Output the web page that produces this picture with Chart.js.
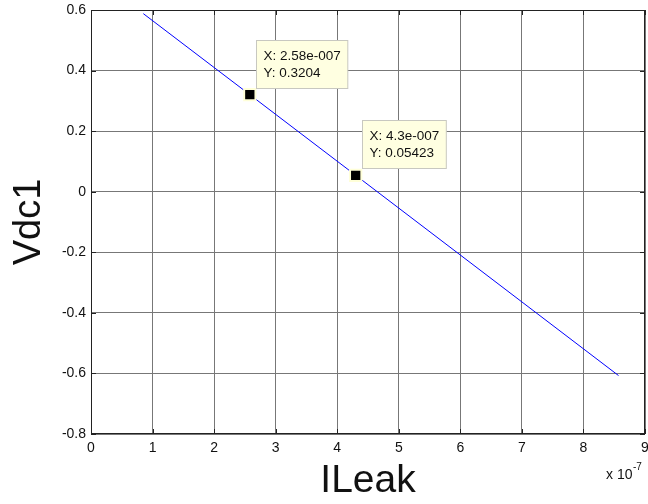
<!DOCTYPE html>
<html>
<head>
<meta charset="utf-8">
<script src="https://cdn.jsdelivr.net/npm/chart.js@4"></script>
<style>
  html, body { margin: 0; padding: 0; background: #fff; }
  canvas { display: block; }
</style>
</head>
<body>
<canvas id="chart" width="648" height="504"></canvas>
<script>
// line data (x in units of 1e-7 A)
const ileak = [0.85, 2.58, 4.3, 8.57];
const vdc1 = [0.588, 0.3204, 0.05423, -0.607];

// data tips
const tipX = [2.58, 4.3];
const tipY = [0.3204, 0.05423];
const tipText = [
    ['X: 2.58e-007', 'Y: 0.3204'],
    ['X: 4.3e-007', 'Y: 0.05423']
];

const xTicks = [0, 1, 2, 3, 4, 5, 6, 7, 8, 9];
const yTicks = [0.6, 0.4, 0.2, 0, -0.2, -0.4, -0.6, -0.8];

const FONT = 'Liberation Sans, Arial, sans-serif';

// Box, inward ticks, data tips and exponent label
const matlabAxes = {
    id: 'matlabAxes',
    afterDatasetsDraw(chart) {
        const { ctx, chartArea: a, scales: { x, y } } = chart;
        ctx.save();
        ctx.strokeStyle = '#222';
        ctx.lineWidth = 1;
        ctx.strokeRect(a.left + 0.5, a.top + 0.5, a.right - a.left - 1, a.bottom - a.top - 1);

        // inward tick marks on all four sides
        ctx.beginPath();
        xTicks.forEach(v => {
            const px = Math.round(x.getPixelForValue(v)) + 0.5;
            ctx.moveTo(px, a.bottom); ctx.lineTo(px, a.bottom - 5);
            ctx.moveTo(px, a.top); ctx.lineTo(px, a.top + 5);
        });
        yTicks.forEach(v => {
            const py = Math.round(y.getPixelForValue(v)) + 0.5;
            ctx.moveTo(a.left, py); ctx.lineTo(a.left + 5, py);
            ctx.moveTo(a.right, py); ctx.lineTo(a.right - 5, py);
        });
        ctx.stroke();

        // data tip boxes
        ctx.font = '13.5px ' + FONT;
        tipX.forEach((v, i) => {
            const mx = x.getPixelForValue(v);
            const my = y.getPixelForValue(tipY[i]);
            const w = Math.max(...tipText[i].map(t => ctx.measureText(t).width)) + 14;
            const h = 48;
            const bx = Math.round(mx + 6) + 0.5;
            const by = Math.round(my - 55) + 0.5;
            ctx.fillStyle = '#ffffe1';
            ctx.fillRect(bx, by, w, h);
            ctx.strokeStyle = '#c8c8c0';
            ctx.strokeRect(bx, by, w, h);
            ctx.fillStyle = '#111';
            ctx.textAlign = 'left';
            ctx.textBaseline = 'middle';
            ctx.fillText(tipText[i][0], bx + 7, by + 16);
            ctx.fillText(tipText[i][1], bx + 7, by + 33);
        });

        // exponent label
        ctx.fillStyle = '#111';
        ctx.textBaseline = 'alphabetic';
        ctx.font = '14px ' + FONT;
        ctx.fillText('x 10', 606, 479);
        ctx.font = '10px ' + FONT;
        ctx.fillText('-7', 633, 470);
        ctx.restore();
    }
};

// only the data-tip points get a marker
const isTip = c => tipX.includes(ileak[c.dataIndex]);

new Chart(document.getElementById('chart'), {
    type: 'scatter',
    data: {
        datasets: [{
            data: ileak.map((v, i) => ({ x: v, y: vdc1[i] })),
            showLine: true,
            borderColor: '#0000ff',
            borderWidth: 1,
            pointStyle: 'rect',
            pointRadius: c => isTip(c) ? 8 : 0,
            pointHoverRadius: 0,
            pointBackgroundColor: '#000',
            pointBorderColor: '#ffffd8',
            pointBorderWidth: 2
        }]
    },
    options: {
        responsive: false,
        animation: false,
        events: [],
        layout: { padding: { top: 10, right: 3, left: 0, bottom: 0 } },
        plugins: {
            legend: { display: false },
            tooltip: { enabled: false }
        },
        scales: {
            x: {
                type: 'linear',
                min: 0,
                max: 9,
                afterFit: s => { s.height = 70; s.paddingLeft = 0; s.paddingRight = 0; },
                afterBuildTicks: s => { s.ticks = xTicks.map(v => ({ value: v })); },
                ticks: {
                    padding: 6,
                    color: '#111',
                    font: { family: FONT, size: 14 },
                    maxRotation: 0
                },
                grid: { color: '#777', drawTicks: false },
                border: { display: false },
                title: {
                    display: true,
                    text: 'ILeak',
                    color: '#111',
                    font: { family: FONT, size: 39, lineHeight: 1 },
                    padding: { top: 0, bottom: 3 }
                }
            },
            y: {
                min: -0.8,
                max: 0.6,
                afterFit: s => { s.width = 91; s.paddingTop = 0; s.paddingBottom = 0; },
                afterBuildTicks: s => { s.ticks = yTicks.map(v => ({ value: v })); },
                ticks: {
                    padding: 5,
                    color: '#111',
                    font: { family: FONT, size: 14 },
                    callback: v => String(Number(v.toFixed(1)))
                },
                grid: { color: '#777', drawTicks: false },
                border: { display: false },
                title: {
                    display: true,
                    text: 'Vdc1',
                    color: '#111',
                    font: { family: FONT, size: 38, lineHeight: 1 },
                    padding: { top: 11, bottom: 0 }
                }
            }
        }
    },
    plugins: [matlabAxes]
});
</script>
</body>
</html>
